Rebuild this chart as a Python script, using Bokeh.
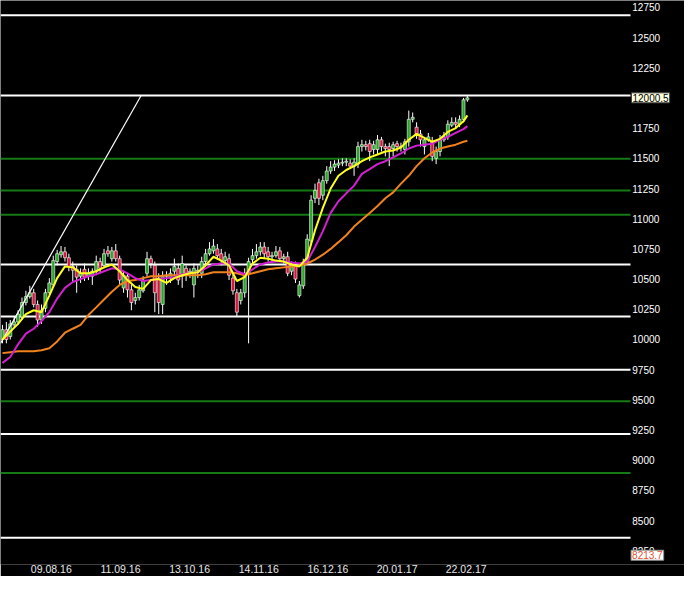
from bokeh.plotting import figure
from bokeh.models import FixedTicker, ColumnDataSource
from bokeh.core.properties import value
from bokeh.layouts import column
from bokeh.embed import file_html
from bokeh.resources import INLINE

# ---------------- data ----------------
opens = [10000, 10081, 10024, 10121, 10145, 10186, 10306, 10355, 10387, 10290,
         10161, 10258, 10387, 10452, 10645, 10702, 10726, 10677, 10605, 10581,
         10524, 10581, 10524, 10524, 10573, 10645, 10613, 10734, 10669, 10734,
         10669, 10427, 10524, 10411, 10323, 10347, 10403, 10548, 10669, 10613,
         10508, 10290, 10524, 10508, 10565, 10589, 10524, 10589, 10548, 10452,
         10565, 10548, 10645, 10710, 10734, 10750, 10710, 10653, 10669, 10508,
         10387, 10323, 10387, 10548, 10661, 10694, 10726, 10766, 10726, 10685,
         10694, 10734, 10669, 10685, 10565, 10613, 10363, 10444, 10645, 10815,
         11169, 11298, 11194, 11315, 11395, 11427, 11444, 11460, 11468, 11460,
         11435, 11452, 11597, 11613, 11621, 11573, 11573, 11653, 11597, 11597,
         11581, 11621, 11597, 11573, 11637, 11823, 11758, 11702, 11597, 11653,
         11637, 11500, 11556, 11653, 11677, 11774, 11798, 11782, 11823, 11984]
highs = [10121, 10145, 10161, 10186, 10242, 10347, 10403, 10444, 10419, 10323,
         10290, 10419, 10508, 10694, 10742, 10774, 10766, 10710, 10645, 10613,
         10589, 10629, 10589, 10589, 10694, 10677, 10750, 10774, 10766, 10790,
         10694, 10565, 10548, 10452, 10387, 10452, 10524, 10726, 10694, 10645,
         10548, 10565, 10565, 10589, 10669, 10629, 10694, 10613, 10589, 10629,
         10613, 10685, 10750, 10806, 10831, 10790, 10750, 10726, 10710, 10548,
         10419, 10419, 10589, 10677, 10750, 10790, 10806, 10806, 10766, 10726,
         10774, 10766, 10710, 10726, 10645, 10645, 10484, 10669, 10871, 11194,
         11290, 11331, 11355, 11435, 11476, 11484, 11492, 11500, 11500, 11492,
         11500, 11637, 11653, 11645, 11653, 11645, 11693, 11677, 11621, 11629,
         11637, 11645, 11629, 11661, 11895, 11879, 11798, 11734, 11677, 11710,
         11677, 11597, 11693, 11718, 11815, 11839, 11839, 11855, 12000, 12016]
lows = [9968, 9968, 10000, 10097, 10121, 10161, 10282, 10339, 10266, 10105,
        10129, 10226, 10371, 10427, 10613, 10677, 10645, 10565, 10468, 10387,
        10468, 10484, 10492, 10452, 10532, 10548, 10589, 10685, 10645, 10645,
        10452, 10387, 10347, 10242, 10290, 10323, 10387, 10524, 10589, 10226,
        10210, 10210, 10452, 10468, 10532, 10452, 10427, 10484, 10508, 10347,
        10508, 10508, 10613, 10694, 10710, 10661, 10613, 10629, 10492, 10371,
        10186, 10290, 10347, 9968, 10629, 10669, 10694, 10669, 10645, 10645,
        10677, 10645, 10629, 10524, 10532, 10468, 10347, 10419, 10629, 10790,
        11129, 11113, 11153, 11290, 11371, 11395, 11419, 11435, 11435, 11411,
        11355, 11419, 11556, 11565, 11476, 11532, 11532, 11556, 11516, 11435,
        11516, 11556, 11556, 11532, 11597, 11798, 11661, 11597, 11532, 11637,
        11476, 11452, 11516, 11637, 11653, 11758, 11742, 11758, 11798, 11968]
closes = [10081, 10000, 10129, 10145, 10210, 10306, 10355, 10387, 10290, 10161,
          10242, 10387, 10468, 10653, 10710, 10726, 10677, 10605, 10573, 10516,
          10548, 10516, 10548, 10565, 10645, 10589, 10710, 10710, 10734, 10669,
          10492, 10532, 10411, 10306, 10347, 10411, 10492, 10669, 10629, 10387,
          10306, 10524, 10532, 10548, 10605, 10492, 10629, 10548, 10565, 10589,
          10573, 10645, 10710, 10750, 10774, 10694, 10653, 10685, 10532, 10403,
          10226, 10387, 10548, 10645, 10694, 10726, 10766, 10710, 10685, 10694,
          10726, 10669, 10685, 10548, 10613, 10500, 10452, 10629, 10831, 11153,
          11234, 11169, 11315, 11395, 11427, 11452, 11460, 11468, 11476, 11435,
          11468, 11597, 11613, 11597, 11556, 11613, 11653, 11597, 11581, 11573,
          11613, 11597, 11600, 11637, 11823, 11839, 11702, 11653, 11653, 11677,
          11516, 11556, 11653, 11677, 11782, 11798, 11782, 11823, 11984, 12000.5]

# moving averages sampled every second bar (bar index positions)
ma_idx = list(range(0, 120, 2)) + [119]
ma_yellow = [10000, 10065, 10129, 10210, 10242, 10226, 10363, 10508, 10605, 10597,
             10548, 10548, 10565, 10597, 10621, 10565, 10492, 10435, 10419, 10492,
             10500, 10468, 10508, 10532, 10548, 10556, 10613, 10685, 10653, 10613,
             10484, 10516, 10629, 10677, 10669, 10653, 10645, 10621, 10605, 10677,
             10903, 11089, 11250, 11355, 11403, 11435, 11476, 11508, 11532, 11556,
             11565, 11589, 11653, 11702, 11669, 11637, 11661, 11718, 11750, 11806,
             11855]
ma_magenta = [9806, 9855, 9960, 10048, 10089, 10153, 10226, 10339, 10427, 10476,
              10500, 10524, 10540, 10565, 10589, 10581, 10548, 10508, 10484, 10492,
              10500, 10508, 10516, 10540, 10548, 10556, 10589, 10621, 10629, 10629,
              10565, 10540, 10581, 10621, 10637, 10645, 10645, 10637, 10629, 10645,
              10766, 10895, 11048, 11145, 11210, 11274, 11371, 11411, 11452, 11476,
              11508, 11540, 11581, 11605, 11613, 11621, 11653, 11677, 11710, 11742,
              11766]
ma_orange = [9887, 9895, 9903, 9903, 9903, 9911, 9927, 9984, 10056, 10089,
             10121, 10202, 10266, 10331, 10395, 10452, 10484, 10492, 10508, 10524,
             10524, 10532, 10532, 10532, 10532, 10532, 10540, 10556, 10556, 10556,
             10548, 10532, 10548, 10565, 10581, 10589, 10597, 10605, 10613, 10629,
             10661, 10702, 10750, 10806, 10863, 10935, 10992, 11048, 11105, 11169,
             11218, 11290, 11355, 11435, 11500, 11548, 11581, 11597, 11613, 11637,
             11645]

white_levels = [12685, 12020, 10621, 10190, 9750, 9218, 8359]
green_levels = [11496, 11234, 11032, 9488, 8895]

trend_idx = [-0.5, 35.5]
trend_price = [9968, 12020]

price_ticks = [8250, 8500, 8750, 9000, 9250, 9500, 9750, 10000, 10250, 10500,
               10750, 11000, 11250, 11500, 11750, 12250, 12500, 12750]
date_ticks = [12.5, 30.2, 47.9, 65.6, 83.3, 101.0, 118.7]
date_labels = ["09.08.16", "11.09.16", "13.10.16", "14.11.16", "16.12.16",
               "20.01.17", "22.02.17"]
last_price = 12000.5
low_marker = 8213.7

# chart area ends at bar position 160.75; price scale column to its right
CHART_END = 160.75
LABEL_X = 161.2

# ---------------- figure ----------------
FONT = "Liberation Sans"
p = figure(width=684, height=576, x_range=(-0.5, 174.57), y_range=(8137, 12806.5),
           output_backend="svg", toolbar_location=None, y_axis_location=None,
           background_fill_color="black", border_fill_color="black",
           outline_line_color=None, min_border_left=0, min_border_top=0,
           min_border_right=0, min_border_bottom=12)
p.grid.visible = False

p.segment(x0=-0.5, y0=white_levels, x1=CHART_END, y1=white_levels,
          line_color="white", line_width=2)
p.segment(x0=-0.5, y0=green_levels, x1=CHART_END, y1=green_levels,
          line_color="#157a15", line_width=2)

idx = list(range(len(closes)))
src = ColumnDataSource(dict(
    x=idx, h=highs, l=lows,
    top=[max(o, c) for o, c in zip(opens, closes)],
    bottom=[min(o, c) for o, c in zip(opens, closes)],
    color=["#27a627" if c >= o else "#dc143c" for o, c in zip(opens, closes)],
))
p.segment(x0="x", y0="l", x1="x", y1="h", source=src, line_color="white", line_width=1)
p.vbar(x="x", width=0.78, top="top", bottom="bottom", source=src,
       fill_color="color", line_color="white", line_width=0.6)

p.line(trend_idx, trend_price, line_color="white", line_width=1.2)
p.line(ma_idx, ma_orange, line_color="#f0821e", line_width=2)
p.line(ma_idx, ma_magenta, line_color="#d21fd2", line_width=2)
p.line(ma_idx, ma_yellow, line_color="#ffff1e", line_width=2)

# price scale (right column)
p.text(x=[LABEL_X] * len(price_ticks), y=price_ticks,
       text=[str(t) for t in price_ticks], text_baseline="middle", text_align="left",
       text_font=value(FONT), text_font_size="10px", text_color="white")
p.text(x=[LABEL_X - 0.2], y=[last_price], text=["12000.5"],
       text_baseline="middle", text_align="left", text_font=value(FONT),
       text_font_size="10px", text_color="black",
       background_fill_color="#ffffe1", border_line_color="#404040", padding=1)
p.text(x=[LABEL_X - 0.3], y=[low_marker], text=["8213.7"],
       text_baseline="middle", text_align="left", text_font=value(FONT),
       text_font_size="10px", text_color="#e4502c",
       background_fill_color="white", border_line_color="#909090", padding=1)

xa = p.xaxis[0]
xa.ticker = FixedTicker(ticks=date_ticks)
xa.major_label_overrides = {t: s for t, s in zip(date_ticks, date_labels)}
xa.axis_line_color = None
xa.major_tick_line_color = None
xa.major_tick_out = 0
xa.major_tick_in = 0
xa.minor_tick_line_color = None
xa.minor_tick_out = 0
xa.major_label_standoff = 0
xa.major_label_text_color = "#e8e8e8"
xa.major_label_text_font = FONT
xa.major_label_text_font_size = "10.5px"

strip = figure(width=684, height=6, x_range=(0, 1), y_range=(0, 1),
               output_backend="svg", toolbar_location=None, min_border=0,
               background_fill_color="#d4d4d4", border_fill_color="#d4d4d4",
               outline_line_color=None)
strip.axis.visible = False
strip.grid.visible = False

layout = column(p, strip, spacing=0)
open("out.html", "w").write(file_html(layout, INLINE))
